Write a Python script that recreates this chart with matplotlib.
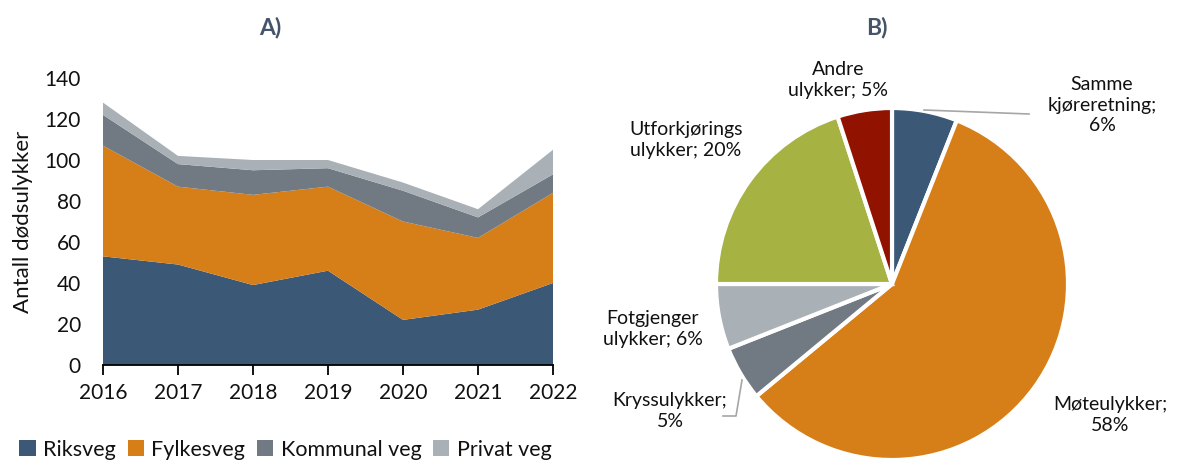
import matplotlib
matplotlib.use("agg")
import matplotlib.pyplot as plt
from matplotlib import rcParams

rcParams['font.family'] = ["Lato", "DejaVu Sans"]

# A) dødsulykker per vegtype
years = [2016, 2017, 2018, 2019, 2020, 2021, 2022]
riksveg = [53, 49, 39, 46, 22, 27, 40]
fylkesveg = [54, 38, 44, 41, 48, 35, 44]
kommunal_veg = [15, 11, 12, 9, 15, 10, 9]
privat_veg = [6, 4, 5, 4, 4, 4, 12]
series_names = ["Riksveg", "Fylkesveg", "Kommunal veg", "Privat veg"]
area_colors = ["#3b5876", "#d67e18", "#717a82", "#a9b0b6"]

# B) ulykkestyper
pie_labels = ["Samme\nkjøreretning;\n6%", "Møteulykker;\n58%", "Kryssulykker;\n5%",
              "Fotgjenger\nulykker; 6%", "Utforkjørings\nulykker; 20%", "Andre\nulykker; 5%"]
pie_values = [6, 58, 5, 6, 20, 5]
pie_colors = ["#3b5876", "#d67e18", "#717a82", "#a9b0b6", "#a6b242", "#921200"]

W, H = 1178, 461
fig = plt.figure(figsize=(W / 100, H / 100), dpi=100)

title_color = "#44546a"
text_color = "#111111"

# ---- A) stacked area
ax1 = fig.add_axes([103 / W, 1 - 365 / H, 450 / W, 287 / H])
ax1.stackplot(years, riksveg, fylkesveg, kommunal_veg, privat_veg,
              colors=area_colors, labels=series_names, lw=0)
ax1.set_xlim(2016, 2022)
ax1.set_ylim(0, 140)
ax1.set_xticks(years)
ax1.set_yticks(range(0, 141, 20))
for side in ["top", "right", "left"]:
    ax1.spines[side].set_visible(False)
ax1.spines["bottom"].set_linewidth(1.3)
ax1.tick_params(axis="x", direction="out", length=7, width=1.3, labelsize=15,
                pad=6, labelcolor=text_color)
ax1.tick_params(axis="y", length=0, labelsize=15, pad=16, labelcolor=text_color)
ax1.set_ylabel("Antall dødsulykker", fontsize=16, labelpad=8, color=text_color)
fig.text(270 / W, 1 - 28 / H, "A)", ha="center", va="center",
         fontsize=16.5, fontweight="bold", color=title_color)

handles, labels = ax1.get_legend_handles_labels()
fig.legend(handles, labels, loc="lower left", bbox_to_anchor=(0 / W, -18 / H),
           ncol=4, frameon=False, fontsize=15.5, handlelength=0.75, handleheight=0.75,
           handletextpad=0.35, columnspacing=0.55, labelcolor=text_color)

# ---- B) pie
r = 176
ax2 = fig.add_axes([(892 - r) / W, 1 - (284 + r) / H, 2 * r / W, 2 * r / H])
ax2.pie(pie_values, colors=pie_colors, startangle=90, counterclock=False,
        wedgeprops=dict(edgecolor="white", linewidth=3))
ax2.set_xlim(-1, 1)
ax2.set_ylim(-1, 1)
ax2.set_aspect("equal")
ax2.axis("off")
fig.text(877 / W, 1 - 28 / H, "B)", ha="center", va="center",
         fontsize=16.5, fontweight="bold", color=title_color)

# label positions in figure pixels (centre of text block)
label_pos = [(1102, 105), (1110, 415), (670, 411), (653, 329), (686, 140), (838, 80)]
for lab, (px, py) in zip(pie_labels, label_pos):
    fig.text(px / W, 1 - py / H, lab, ha="center", va="center", fontsize=14,
             linespacing=1.25, color=text_color)

# leader lines
fig.add_artist(plt.Line2D([924 / W, 1029 / W], [1 - 110 / H, 1 - 114 / H],
                          color="#a6a6a6", lw=1.2))
fig.add_artist(plt.Line2D([742 / W, 736 / W, 723 / W],
                          [1 - 380 / H, 1 - 416 / H, 1 - 416 / H],
                          color="#a6a6a6", lw=1.2))

plt.savefig("out.png", dpi=100)
